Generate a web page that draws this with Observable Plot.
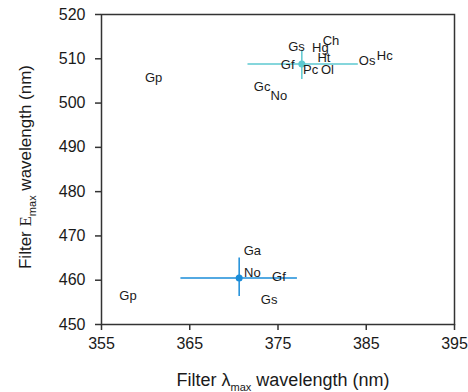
<!DOCTYPE html>
<html><head><meta charset="utf-8">
<script src="https://cdn.jsdelivr.net/npm/d3@7"></script>
<script src="https://cdn.jsdelivr.net/npm/@observablehq/plot@0.6"></script>
<style>body{margin:0;background:#fff} #chart svg{font-family:"Liberation Sans",Arial,sans-serif;overflow:visible}</style>
</head><body><div id="chart"></div>
<script>
// Tick values
const xTicks = [355, 365, 375, 385, 395];
const yTicks = [450, 460, 470, 480, 490, 500, 510, 520];

// Species labels: upper cluster (long-wavelength emission)
const upperNames = ["Gs", "Hg", "Ch", "Ht", "Gf", "Pc", "Ol", "Os", "Hc", "Gc", "No", "Gp"];
const upperX     = [377.1, 379.8, 381.0, 380.2, 376.1, 378.7, 380.6, 385.1, 387.1, 373.2, 375.1, 360.9];
const upperY     = [512.8, 512.5, 514.0, 510.2, 508.6, 507.5, 507.5, 509.6, 510.7, 503.7, 501.7, 505.8];

// Species labels: lower cluster
const lowerNames = ["Ga", "No", "Gf", "Gs", "Gp"];
const lowerX     = [372.1, 372.1, 375.1, 374.0, 358.0];
const lowerY     = [466.6, 461.7, 460.8, 455.6, 456.5];

// Group means with error ranges
const groups = ["upper", "lower"];
const meanX  = [377.7, 370.6];
const meanY  = [508.8, 460.5];
const xLow   = [371.6, 364.0];
const xHigh  = [384.1, 377.2];
const yLow   = [505.3, 456.3];
const yHigh  = [511.9, 465.0];

const groupColors = ["#5cc8d0", "#1a8cd8"];

const labels = [
  ...upperNames.map((n, i) => ({name: n, x: upperX[i], y: upperY[i]})),
  ...lowerNames.map((n, i) => ({name: n, x: lowerX[i], y: lowerY[i]}))
];
const means = groups.map((g, i) => ({g, x: meanX[i], y: meanY[i], x1: xLow[i], x2: xHigh[i], y1: yLow[i], y2: yHigh[i]}));

const plot = Plot.plot({
  width: 468,
  height: 392,
  marginLeft: 101,
  marginRight: 14,
  marginTop: 14,
  marginBottom: 68,
  style: {fontSize: "16px", color: "#1a1a1a", background: "#fff"},
  x: {domain: [355, 395], ticks: xTicks, label: null},
  y: {domain: [450, 520], ticks: yTicks, label: null},
  color: {domain: groups, range: groupColors},
  marks: [
    Plot.ruleY(means, {y: "y", x1: "x1", x2: "x2", stroke: "g", strokeWidth: 1.5}),
    Plot.ruleX(means, {x: "x", y1: "y1", y2: "y2", stroke: "g", strokeWidth: 1.5}),
    Plot.dot(means, {x: "x", y: "y", fill: "g", r: 3.5}),
    Plot.text(labels, {x: "x", y: "y", text: "name", fontSize: 13, fill: "#1a1a1a"}),
    Plot.frame({stroke: "#333", strokeWidth: 1.5}),
    Plot.axisX({ticks: xTicks, tickSize: 6, tickPadding: 7, fontSize: 16, stroke: "#333", strokeWidth: 1.5}),
    Plot.axisY({ticks: yTicks, tickSize: 6, tickPadding: 10, fontSize: 16, stroke: "#333", strokeWidth: 1.5})
  ]
});
document.getElementById("chart").appendChild(plot);

const svg = d3.select(plot);
// X axis title
const xt = svg.append("text").attr("x", 283).attr("y", 386).attr("text-anchor", "middle")
  .attr("font-size", 18).attr("fill", "#1a1a1a");
xt.append("tspan").text("Filter λ");
xt.append("tspan").attr("font-size", 11).attr("dy", 5).text("max");
xt.append("tspan").attr("dy", -5).text(" wavelength (nm)");
// Y axis title
const yt = svg.append("text").attr("transform", "translate(31,167) rotate(-90)").attr("text-anchor", "middle")
  .attr("font-size", 17).attr("fill", "#1a1a1a");
yt.append("tspan").text("Filter ");
yt.append("tspan").attr("font-family", "'Liberation Serif', 'Times New Roman', serif").text("E");
yt.append("tspan").attr("font-size", 11).attr("dy", 5).text("max");
yt.append("tspan").attr("dy", -5).text(" wavelength (nm)");
</script>
</body></html>
